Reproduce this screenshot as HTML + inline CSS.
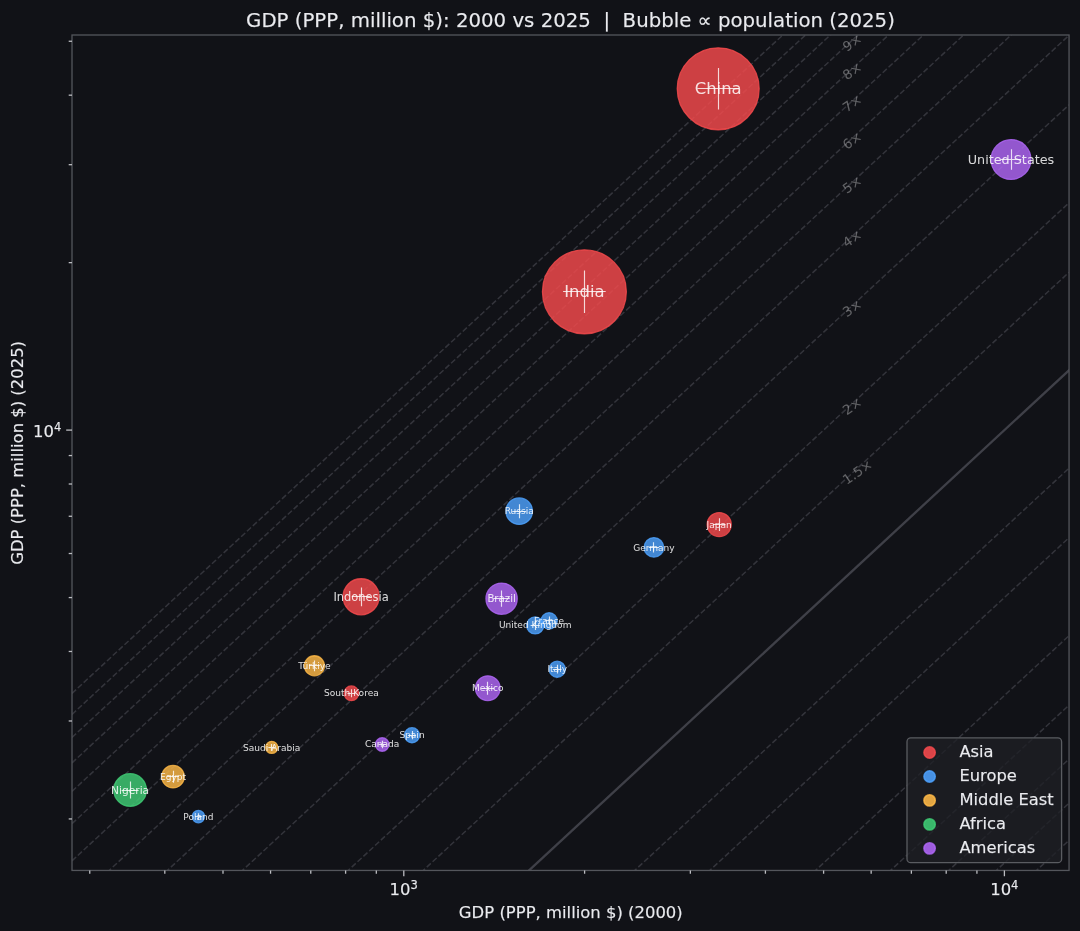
<!DOCTYPE html><html><head><meta charset="utf-8"><title>GDP bubble chart</title>
<style>html,body{margin:0;padding:0;background:#111217;}svg{display:block}text{font-family:"DejaVu Sans","Liberation Sans",sans-serif;}.t{stroke:#eaebef;stroke-width:0.25px;stroke-opacity:0.6}</style></head><body>
<svg width="1080" height="931" viewBox="0 0 1080 931">
<rect width="1080" height="931" fill="#111217"/>
<defs><clipPath id="ax"><rect x="72.0" y="35.0" width="997.05" height="835.45"/></clipPath></defs>
<g clip-path="url(#ax)">
<line x1="356.77" y1="932.00" x2="1069.05" y2="272.26" stroke="#ccccdc" stroke-opacity="0.19" stroke-width="1.5" stroke-dasharray="5.55 2.4"/>
<line x1="281.73" y1="932.00" x2="1069.05" y2="202.76" stroke="#ccccdc" stroke-opacity="0.19" stroke-width="1.5" stroke-dasharray="5.55 2.4"/>
<line x1="175.97" y1="932.00" x2="1069.05" y2="104.80" stroke="#ccccdc" stroke-opacity="0.19" stroke-width="1.5" stroke-dasharray="5.55 2.4"/>
<line x1="100.93" y1="932.00" x2="1069.05" y2="35.29" stroke="#ccccdc" stroke-opacity="0.19" stroke-width="1.5" stroke-dasharray="5.55 2.4"/>
<line x1="72.00" y1="904.89" x2="1069.05" y2="-18.62" stroke="#ccccdc" stroke-opacity="0.19" stroke-width="1.5" stroke-dasharray="5.55 2.4"/>
<line x1="72.00" y1="860.84" x2="1069.05" y2="-62.67" stroke="#ccccdc" stroke-opacity="0.19" stroke-width="1.5" stroke-dasharray="5.55 2.4"/>
<line x1="72.00" y1="823.60" x2="1069.05" y2="-99.91" stroke="#ccccdc" stroke-opacity="0.19" stroke-width="1.5" stroke-dasharray="5.55 2.4"/>
<line x1="72.00" y1="791.34" x2="1069.05" y2="-132.17" stroke="#ccccdc" stroke-opacity="0.19" stroke-width="1.5" stroke-dasharray="5.55 2.4"/>
<line x1="72.00" y1="762.88" x2="1069.05" y2="-160.63" stroke="#ccccdc" stroke-opacity="0.19" stroke-width="1.5" stroke-dasharray="5.55 2.4"/>
<line x1="72.00" y1="737.43" x2="1069.05" y2="-186.08" stroke="#ccccdc" stroke-opacity="0.19" stroke-width="1.5" stroke-dasharray="5.55 2.4"/>
<line x1="72.00" y1="714.40" x2="1069.05" y2="-209.11" stroke="#ccccdc" stroke-opacity="0.19" stroke-width="1.5" stroke-dasharray="5.55 2.4"/>
<line x1="72.00" y1="693.38" x2="1069.05" y2="-230.13" stroke="#ccccdc" stroke-opacity="0.19" stroke-width="1.5" stroke-dasharray="5.55 2.4"/>
<line x1="568.29" y1="932.00" x2="1069.05" y2="468.18" stroke="#ccccdc" stroke-opacity="0.19" stroke-width="1.5" stroke-dasharray="5.55 2.4"/>
<line x1="643.33" y1="932.00" x2="1069.05" y2="537.68" stroke="#ccccdc" stroke-opacity="0.19" stroke-width="1.5" stroke-dasharray="5.55 2.4"/>
<line x1="749.09" y1="932.00" x2="1069.05" y2="635.64" stroke="#ccccdc" stroke-opacity="0.19" stroke-width="1.5" stroke-dasharray="5.55 2.4"/>
<line x1="824.13" y1="932.00" x2="1069.05" y2="705.14" stroke="#ccccdc" stroke-opacity="0.19" stroke-width="1.5" stroke-dasharray="5.55 2.4"/>
<line x1="882.33" y1="932.00" x2="1069.05" y2="759.06" stroke="#ccccdc" stroke-opacity="0.19" stroke-width="1.5" stroke-dasharray="5.55 2.4"/>
<line x1="929.89" y1="932.00" x2="1069.05" y2="803.10" stroke="#ccccdc" stroke-opacity="0.19" stroke-width="1.5" stroke-dasharray="5.55 2.4"/>
<line x1="970.10" y1="932.00" x2="1069.05" y2="840.35" stroke="#ccccdc" stroke-opacity="0.19" stroke-width="1.5" stroke-dasharray="5.55 2.4"/>
<line x1="1004.93" y1="932.00" x2="1069.05" y2="872.61" stroke="#ccccdc" stroke-opacity="0.19" stroke-width="1.5" stroke-dasharray="5.55 2.4"/>
<line x1="1035.65" y1="932.00" x2="1069.05" y2="901.06" stroke="#ccccdc" stroke-opacity="0.19" stroke-width="1.5" stroke-dasharray="5.55 2.4"/>
<line x1="1063.13" y1="932.00" x2="1069.05" y2="926.52" stroke="#ccccdc" stroke-opacity="0.19" stroke-width="1.5" stroke-dasharray="5.55 2.4"/>
<line x1="67.00" y1="1298.36" x2="1074.05" y2="365.59" stroke="#ccccdc" stroke-opacity="0.25" stroke-width="2.33"/>
<text x="846.84" y="484.98" font-size="13.33" fill="#ffffff" fill-opacity="0.34" transform="rotate(-34.5 846.84 484.98)">1.5×</text>
<text x="846.84" y="415.48" font-size="13.33" fill="#ffffff" fill-opacity="0.34" transform="rotate(-34.5 846.84 415.48)">2×</text>
<text x="846.84" y="317.52" font-size="13.33" fill="#ffffff" fill-opacity="0.34" transform="rotate(-34.5 846.84 317.52)">3×</text>
<text x="846.84" y="248.02" font-size="13.33" fill="#ffffff" fill-opacity="0.34" transform="rotate(-34.5 846.84 248.02)">4×</text>
<text x="846.84" y="194.11" font-size="13.33" fill="#ffffff" fill-opacity="0.34" transform="rotate(-34.5 846.84 194.11)">5×</text>
<text x="846.84" y="150.06" font-size="13.33" fill="#ffffff" fill-opacity="0.34" transform="rotate(-34.5 846.84 150.06)">6×</text>
<text x="846.84" y="112.81" font-size="13.33" fill="#ffffff" fill-opacity="0.34" transform="rotate(-34.5 846.84 112.81)">7×</text>
<text x="846.84" y="80.55" font-size="13.33" fill="#ffffff" fill-opacity="0.34" transform="rotate(-34.5 846.84 80.55)">8×</text>
<text x="846.84" y="52.10" font-size="13.33" fill="#ffffff" fill-opacity="0.34" transform="rotate(-34.5 846.84 52.10)">9×</text>
<text x="846.84" y="26.64" font-size="13.33" fill="#ffffff" fill-opacity="0.34" transform="rotate(-34.5 846.84 26.64)">10×</text>
<text x="846.84" y="3.62" font-size="13.33" fill="#ffffff" fill-opacity="0.34" transform="rotate(-34.5 846.84 3.62)">11×</text>
<text x="846.84" y="-17.41" font-size="13.33" fill="#ffffff" fill-opacity="0.34" transform="rotate(-34.5 846.84 -17.41)">12×</text>
<circle cx="718.2" cy="88.8" r="40.95" fill="#f64a4d" fill-opacity="0.82" stroke="#f64a4d" stroke-opacity="0.82" stroke-width="1.3"/>
<circle cx="584.4" cy="291.8" r="41.95" fill="#f64a4d" fill-opacity="0.82" stroke="#f64a4d" stroke-opacity="0.82" stroke-width="1.3"/>
<circle cx="1011" cy="159.5" r="19.95" fill="#b067f7" fill-opacity="0.82" stroke="#b067f7" stroke-opacity="0.82" stroke-width="1.3"/>
<circle cx="361.1" cy="596.8" r="18.05" fill="#f64a4d" fill-opacity="0.82" stroke="#f64a4d" stroke-opacity="0.82" stroke-width="1.3"/>
<circle cx="519.2" cy="511.2" r="13.25" fill="#4da1fd" fill-opacity="0.82" stroke="#4da1fd" stroke-opacity="0.82" stroke-width="1.3"/>
<circle cx="501.6" cy="598.7" r="15.65" fill="#b067f7" fill-opacity="0.82" stroke="#b067f7" stroke-opacity="0.82" stroke-width="1.3"/>
<circle cx="719.2" cy="524.6" r="12.05" fill="#f64a4d" fill-opacity="0.82" stroke="#f64a4d" stroke-opacity="0.82" stroke-width="1.3"/>
<circle cx="653.9" cy="547.4" r="9.80" fill="#4da1fd" fill-opacity="0.82" stroke="#4da1fd" stroke-opacity="0.82" stroke-width="1.3"/>
<circle cx="549.1" cy="620.9" r="8.15" fill="#4da1fd" fill-opacity="0.82" stroke="#4da1fd" stroke-opacity="0.82" stroke-width="1.3"/>
<circle cx="535.2" cy="625.4" r="8.55" fill="#4da1fd" fill-opacity="0.82" stroke="#4da1fd" stroke-opacity="0.82" stroke-width="1.3"/>
<circle cx="557.2" cy="669.2" r="8.05" fill="#4da1fd" fill-opacity="0.82" stroke="#4da1fd" stroke-opacity="0.82" stroke-width="1.3"/>
<circle cx="487.8" cy="688.2" r="12.35" fill="#b067f7" fill-opacity="0.82" stroke="#b067f7" stroke-opacity="0.82" stroke-width="1.3"/>
<circle cx="314.4" cy="665.8" r="10.05" fill="#ffb947" fill-opacity="0.82" stroke="#ffb947" stroke-opacity="0.82" stroke-width="1.3"/>
<circle cx="351.4" cy="693.3" r="7.35" fill="#f64a4d" fill-opacity="0.82" stroke="#f64a4d" stroke-opacity="0.82" stroke-width="1.3"/>
<circle cx="271.7" cy="747.4" r="6.05" fill="#ffb947" fill-opacity="0.82" stroke="#ffb947" stroke-opacity="0.82" stroke-width="1.3"/>
<circle cx="382.2" cy="744.5" r="6.75" fill="#b067f7" fill-opacity="0.82" stroke="#b067f7" stroke-opacity="0.82" stroke-width="1.3"/>
<circle cx="412.0" cy="735.2" r="7.55" fill="#4da1fd" fill-opacity="0.82" stroke="#4da1fd" stroke-opacity="0.82" stroke-width="1.3"/>
<circle cx="173.0" cy="776.7" r="11.25" fill="#ffb947" fill-opacity="0.82" stroke="#ffb947" stroke-opacity="0.82" stroke-width="1.3"/>
<circle cx="130.1" cy="790.0" r="16.35" fill="#3fcd75" fill-opacity="0.82" stroke="#3fcd75" stroke-opacity="0.82" stroke-width="1.3"/>
<circle cx="198.4" cy="816.6" r="6.20" fill="#4da1fd" fill-opacity="0.82" stroke="#4da1fd" stroke-opacity="0.82" stroke-width="1.3"/>
<path d="M697.40 88.5H739.00M718.5 68.00V109.60" stroke="#ffffff" stroke-opacity="0.8" stroke-width="1.15" fill="none"/>
<path d="M563.10 291.5H605.70M584.5 270.50V313.10" stroke="#ffffff" stroke-opacity="0.8" stroke-width="1.15" fill="none"/>
<path d="M1000.70 159.5H1021.30M1011.5 149.20V169.80" stroke="#ffffff" stroke-opacity="0.8" stroke-width="1.15" fill="none"/>
<path d="M351.75 596.5H370.45M361.5 587.45V606.15" stroke="#ffffff" stroke-opacity="0.8" stroke-width="1.15" fill="none"/>
<path d="M512.25 511.5H526.15M519.5 504.25V518.15" stroke="#ffffff" stroke-opacity="0.8" stroke-width="1.15" fill="none"/>
<path d="M493.45 598.5H509.75M501.5 590.55V606.85" stroke="#ffffff" stroke-opacity="0.8" stroke-width="1.15" fill="none"/>
<path d="M712.85 524.5H725.55M719.5 518.25V530.95" stroke="#ffffff" stroke-opacity="0.8" stroke-width="1.15" fill="none"/>
<path d="M648.67 547.5H659.12M653.5 542.17V552.62" stroke="#ffffff" stroke-opacity="0.8" stroke-width="1.15" fill="none"/>
<path d="M544.70 620.5H553.50M549.5 616.50V625.30" stroke="#ffffff" stroke-opacity="0.8" stroke-width="1.15" fill="none"/>
<path d="M530.60 625.5H539.80M535.5 620.80V630.00" stroke="#ffffff" stroke-opacity="0.8" stroke-width="1.15" fill="none"/>
<path d="M552.85 669.5H561.55M557.5 664.85V673.55" stroke="#ffffff" stroke-opacity="0.8" stroke-width="1.15" fill="none"/>
<path d="M481.30 688.5H494.30M487.5 681.70V694.70" stroke="#ffffff" stroke-opacity="0.8" stroke-width="1.15" fill="none"/>
<path d="M309.05 665.5H319.75M314.5 660.45V671.15" stroke="#ffffff" stroke-opacity="0.8" stroke-width="1.15" fill="none"/>
<path d="M347.40 693.5H355.40M351.5 689.30V697.30" stroke="#ffffff" stroke-opacity="0.8" stroke-width="1.15" fill="none"/>
<path d="M268.35 747.5H275.05M271.5 744.05V750.75" stroke="#ffffff" stroke-opacity="0.8" stroke-width="1.15" fill="none"/>
<path d="M378.50 744.5H385.90M382.5 740.80V748.20" stroke="#ffffff" stroke-opacity="0.8" stroke-width="1.15" fill="none"/>
<path d="M407.90 735.5H416.10M412.5 731.10V739.30" stroke="#ffffff" stroke-opacity="0.8" stroke-width="1.15" fill="none"/>
<path d="M167.05 776.5H178.95M173.5 770.75V782.65" stroke="#ffffff" stroke-opacity="0.8" stroke-width="1.15" fill="none"/>
<path d="M121.60 790.5H138.60M130.5 781.50V798.50" stroke="#ffffff" stroke-opacity="0.8" stroke-width="1.15" fill="none"/>
<path d="M194.97 816.5H201.83M198.5 813.18V820.02" stroke="#ffffff" stroke-opacity="0.8" stroke-width="1.15" fill="none"/>
<text x="718.2" y="93.73" font-size="16.45" fill="#ffffff" fill-opacity="0.84" text-anchor="middle">China</text>
<text x="584.4" y="296.74" font-size="16.45" fill="#ffffff" fill-opacity="0.84" text-anchor="middle">India</text>
<text x="1011" y="163.63" font-size="12.78" fill="#ffffff" fill-opacity="0.84" text-anchor="middle">United States</text>
<text x="361.1" y="600.73" font-size="11.45" fill="#ffffff" fill-opacity="0.84" text-anchor="middle">Indonesia</text>
<text x="519.2" y="513.91" font-size="9.04" fill="#ffffff" fill-opacity="0.86" text-anchor="middle">Russia</text>
<text x="501.6" y="601.76" font-size="10.20" fill="#ffffff" fill-opacity="0.86" text-anchor="middle">Brazil</text>
<text x="719.2" y="528.01" font-size="9.04" fill="#ffffff" fill-opacity="0.86" text-anchor="middle">Japan</text>
<text x="653.9" y="550.61" font-size="9.04" fill="#ffffff" fill-opacity="0.86" text-anchor="middle">Germany</text>
<text x="549.1" y="623.61" font-size="9.04" fill="#ffffff" fill-opacity="0.86" text-anchor="middle">France</text>
<text x="535.2" y="628.11" font-size="9.04" fill="#ffffff" fill-opacity="0.86" text-anchor="middle">United Kingdom</text>
<text x="557.2" y="671.91" font-size="9.04" fill="#ffffff" fill-opacity="0.86" text-anchor="middle">Italy</text>
<text x="487.8" y="691.31" font-size="9.04" fill="#ffffff" fill-opacity="0.86" text-anchor="middle">Mexico</text>
<text x="314.4" y="669.11" font-size="9.04" fill="#ffffff" fill-opacity="0.86" text-anchor="middle">Türkiye</text>
<text x="351.4" y="695.91" font-size="9.04" fill="#ffffff" fill-opacity="0.86" text-anchor="middle">South Korea</text>
<text x="271.7" y="751.21" font-size="9.04" fill="#ffffff" fill-opacity="0.86" text-anchor="middle">Saudi Arabia</text>
<text x="382.2" y="746.51" font-size="9.04" fill="#ffffff" fill-opacity="0.86" text-anchor="middle">Canada</text>
<text x="412.0" y="737.91" font-size="9.04" fill="#ffffff" fill-opacity="0.86" text-anchor="middle">Spain</text>
<text x="173.0" y="780.11" font-size="9.04" fill="#ffffff" fill-opacity="0.86" text-anchor="middle">Egypt</text>
<text x="130.1" y="794.49" font-size="10.64" fill="#ffffff" fill-opacity="0.86" text-anchor="middle">Nigeria</text>
<text x="198.4" y="819.66" font-size="9.04" fill="#ffffff" fill-opacity="0.86" text-anchor="middle">Poland</text>
</g>
<rect x="72.0" y="35.0" width="997.05" height="835.45" fill="none" stroke="#54565c" stroke-width="1.3"/>
<line x1="89.76" y1="870.45" x2="89.76" y2="873.75" stroke="#bcbdc2" stroke-width="1.3"/>
<line x1="164.80" y1="870.45" x2="164.80" y2="873.75" stroke="#bcbdc2" stroke-width="1.3"/>
<line x1="223.00" y1="870.45" x2="223.00" y2="873.75" stroke="#bcbdc2" stroke-width="1.3"/>
<line x1="270.56" y1="870.45" x2="270.56" y2="873.75" stroke="#bcbdc2" stroke-width="1.3"/>
<line x1="310.77" y1="870.45" x2="310.77" y2="873.75" stroke="#bcbdc2" stroke-width="1.3"/>
<line x1="345.60" y1="870.45" x2="345.60" y2="873.75" stroke="#bcbdc2" stroke-width="1.3"/>
<line x1="376.32" y1="870.45" x2="376.32" y2="873.75" stroke="#bcbdc2" stroke-width="1.3"/>
<line x1="403.80" y1="870.45" x2="403.80" y2="876.25" stroke="#bcbdc2" stroke-width="1.3"/>
<line x1="584.60" y1="870.45" x2="584.60" y2="873.75" stroke="#bcbdc2" stroke-width="1.3"/>
<line x1="72.0" y1="818.94" x2="68.7" y2="818.94" stroke="#bcbdc2" stroke-width="1.3"/>
<line x1="690.36" y1="870.45" x2="690.36" y2="873.75" stroke="#bcbdc2" stroke-width="1.3"/>
<line x1="72.0" y1="720.98" x2="68.7" y2="720.98" stroke="#bcbdc2" stroke-width="1.3"/>
<line x1="765.40" y1="870.45" x2="765.40" y2="873.75" stroke="#bcbdc2" stroke-width="1.3"/>
<line x1="72.0" y1="651.47" x2="68.7" y2="651.47" stroke="#bcbdc2" stroke-width="1.3"/>
<line x1="823.60" y1="870.45" x2="823.60" y2="873.75" stroke="#bcbdc2" stroke-width="1.3"/>
<line x1="72.0" y1="597.56" x2="68.7" y2="597.56" stroke="#bcbdc2" stroke-width="1.3"/>
<line x1="871.16" y1="870.45" x2="871.16" y2="873.75" stroke="#bcbdc2" stroke-width="1.3"/>
<line x1="72.0" y1="553.51" x2="68.7" y2="553.51" stroke="#bcbdc2" stroke-width="1.3"/>
<line x1="911.37" y1="870.45" x2="911.37" y2="873.75" stroke="#bcbdc2" stroke-width="1.3"/>
<line x1="72.0" y1="516.27" x2="68.7" y2="516.27" stroke="#bcbdc2" stroke-width="1.3"/>
<line x1="946.20" y1="870.45" x2="946.20" y2="873.75" stroke="#bcbdc2" stroke-width="1.3"/>
<line x1="72.0" y1="484.01" x2="68.7" y2="484.01" stroke="#bcbdc2" stroke-width="1.3"/>
<line x1="976.92" y1="870.45" x2="976.92" y2="873.75" stroke="#bcbdc2" stroke-width="1.3"/>
<line x1="72.0" y1="455.55" x2="68.7" y2="455.55" stroke="#bcbdc2" stroke-width="1.3"/>
<line x1="1004.40" y1="870.45" x2="1004.40" y2="876.25" stroke="#bcbdc2" stroke-width="1.3"/>
<line x1="72.0" y1="430.10" x2="66.2" y2="430.10" stroke="#bcbdc2" stroke-width="1.3"/>
<line x1="72.0" y1="262.64" x2="68.7" y2="262.64" stroke="#bcbdc2" stroke-width="1.3"/>
<line x1="72.0" y1="164.68" x2="68.7" y2="164.68" stroke="#bcbdc2" stroke-width="1.3"/>
<line x1="72.0" y1="95.17" x2="68.7" y2="95.17" stroke="#bcbdc2" stroke-width="1.3"/>
<line x1="72.0" y1="41.26" x2="68.7" y2="41.26" stroke="#bcbdc2" stroke-width="1.3"/>
<text x="389.6" y="895.0" font-size="16.45" class="t" fill="#eaebef">10<tspan dy="-6.3" font-size="11.5">3</tspan></text>
<text x="990.2" y="895.0" font-size="16.45" class="t" fill="#eaebef">10<tspan dy="-6.3" font-size="11.5">4</tspan></text>
<text x="33.1" y="436.8" font-size="16.45" class="t" fill="#eaebef">10<tspan dy="-6.3" font-size="11.5">4</tspan></text>
<text x="570.5" y="27.4" font-size="19.74" class="t" fill="#eaebef" text-anchor="middle" xml:space="preserve">GDP (PPP, million $): 2000 vs 2025  |  Bubble ∝ population (2025)</text>
<text x="570.8" y="917.7" font-size="16.45" class="t" fill="#eaebef" text-anchor="middle">GDP (PPP, million $) (2000)</text>
<text x="0" y="0" font-size="16.45" class="t" fill="#eaebef" text-anchor="middle" transform="translate(23.0 452.9) rotate(-90)">GDP (PPP, million $) (2025)</text>
<rect x="907" y="737.9" width="154.6" height="124.8" rx="3.8" ry="3.8" fill="#1e1f25" fill-opacity="0.76" stroke="#5a5c61" stroke-width="1.3"/>
<circle cx="929.6" cy="752.50" r="5.62" fill="#f64a4d" fill-opacity="0.88" stroke="#f64a4d" stroke-opacity="0.82" stroke-width="1.66"/>
<text x="959.4" y="757.00" font-size="16.33" class="t" fill="#eaebef">Asia</text>
<circle cx="929.6" cy="776.46" r="5.62" fill="#4da1fd" fill-opacity="0.88" stroke="#4da1fd" stroke-opacity="0.82" stroke-width="1.66"/>
<text x="959.4" y="780.96" font-size="16.33" class="t" fill="#eaebef">Europe</text>
<circle cx="929.6" cy="800.42" r="5.62" fill="#ffb947" fill-opacity="0.88" stroke="#ffb947" stroke-opacity="0.82" stroke-width="1.66"/>
<text x="959.4" y="804.92" font-size="16.33" class="t" fill="#eaebef">Middle East</text>
<circle cx="929.6" cy="824.38" r="5.62" fill="#3fcd75" fill-opacity="0.88" stroke="#3fcd75" stroke-opacity="0.82" stroke-width="1.66"/>
<text x="959.4" y="828.88" font-size="16.33" class="t" fill="#eaebef">Africa</text>
<circle cx="929.6" cy="848.34" r="5.62" fill="#b067f7" fill-opacity="0.88" stroke="#b067f7" stroke-opacity="0.82" stroke-width="1.66"/>
<text x="959.4" y="852.84" font-size="16.33" class="t" fill="#eaebef">Americas</text>
</svg></body></html>
